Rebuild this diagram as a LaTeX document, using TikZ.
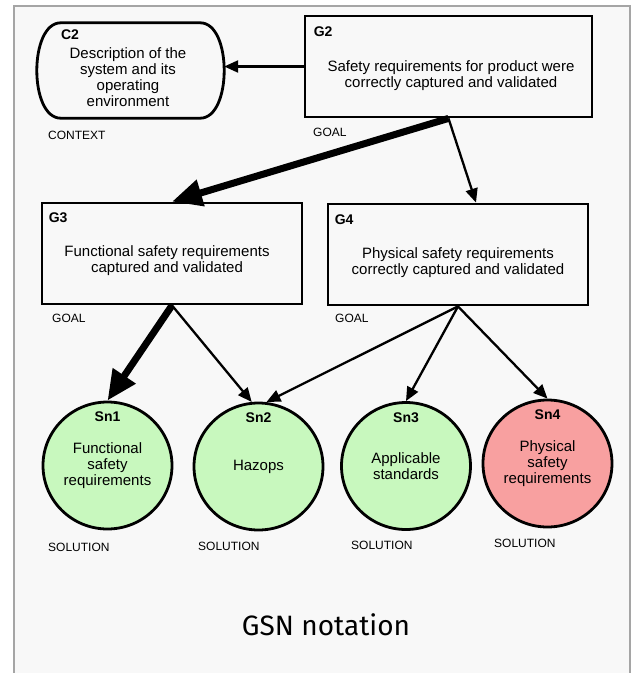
\documentclass[tikz,border=0pt]{standalone}
\usepackage{fontspec}
\setmainfont{Liberation Sans}
\newfontfamily\titlefont{Fira Sans}
\usepackage{tikz}
\usetikzlibrary{arrows.meta,positioning,shapes.geometric}
\definecolor{panel}{RGB}{248,248,248}
\definecolor{framegray}{RGB}{165,165,165}
\definecolor{solgreen}{RGB}{200,248,190}
\definecolor{solred}{RGB}{248,160,160}
\tikzset{
    border/.style={draw=black, line width=2.8pt},
    goalbox/.style={
      rectangle,
      border,
      minimum width=260pt,
      minimum height=101pt},
    ctxbox/.style={
      rectangle,
      minimum width=187pt,
      minimum height=95pt},
    solution/.style={
      ellipse,
      border,
      fill=solgreen,
      minimum width=129pt,
      minimum height=127pt,
      inner sep=0pt,
      align=center,
      font=\fontsize{15}{16}\selectfont},
    bodytext/.style={align=center, inner sep=0pt, font=\fontsize{15}{16}\selectfont},
    idtext/.style={inner sep=0pt, font=\fontsize{14}{16}\selectfont\bfseries},
    kindtext/.style={anchor=west, inner sep=0pt, font=\fontsize{12}{14}\selectfont},
    thinline/.style={draw, line width=2.3pt, -{Triangle[length=14pt,width=12pt]}},
    thickline/.style={draw, line width=7pt, -{Triangle[length=30pt,width=26pt]}},
}
\begin{document}
\begin{tikzpicture}[x=1pt,y=-1pt]
    \useasboundingbox (0,0) rectangle (635,673);
    \draw[fill=panel, draw=framegray, line width=1.6pt] (14,6) rectangle (630,690);

    % context
    \node[ctxbox] (c2) at (130.5,70.5) {};
    \draw[border] ([xshift=24pt]c2.north west) -- ([xshift=-24pt]c2.north east)
        .. controls ([xshift=8pt]c2.north east) and ([xshift=8pt]c2.south east) .. ([xshift=-24pt]c2.south east)
        -- ([xshift=24pt]c2.south west)
        .. controls ([xshift=-8pt]c2.south west) and ([xshift=-8pt]c2.north west) .. cycle;
    \node[idtext, below right=7pt and 24pt of c2.north west] (c2Id) {C2};
    \node[bodytext] (c2Text) at (128,77.5) {Description of the\\system and its\\operating\\environment};
    \node[kindtext] (c2Kind) at (48,135) {CONTEXT};

    % goals
    \node[goalbox, minimum width=287pt] (g2) at (448.5,66.5) {};
    \node[idtext, below right=12pt and 10pt of g2.north west] (g2Id) {G2};
    \node[bodytext] (g2Text) at (451,76) {Safety requirements for product were\\correctly captured and validated};
    \node[kindtext] (g2Kind) at (313,132) {GOAL};

    \node[goalbox] (g3) at (172,253.5) {};
    \node[idtext, below right=11pt and 8pt of g3.north west] (g3Id) {G3};
    \node[bodytext] (g3Text) at (167,261) {Functional safety requirements\\captured and validated};
    \node[kindtext] (g3Kind) at (52,318) {GOAL};

    \node[goalbox] (g4) at (458,254.5) {};
    \node[idtext, below right=12pt and 8pt of g4.north west] (g4Id) {G4};
    \node[bodytext] (g4Text) at (458,263) {Physical safety requirements\\correctly captured and validated};
    \node[kindtext] (g4Kind) at (335,318) {GOAL};

    % solutions
    \node[solution] (sn1) at (107.5,465.5) {Functional\\safety\\requirements};
    \node[solution] (sn2) at (258.5,466.5) {Hazops};
    \node[solution] (sn3) at (406,466) {Applicable\\standards};
    \node[solution, fill=solred] (sn4) at (547.5,463.5) {Physical\\safety\\requirements};
    \foreach \s/\t in {sn1/Sn1,sn2/Sn2,sn3/Sn3,sn4/Sn4}
        \node[idtext, below=11pt of \s.north] (\s Id) {\t};
    \node[kindtext] (sn1Kind) at (48,547) {SOLUTION};
    \node[kindtext] (sn2Kind) at (198,546) {SOLUTION};
    \node[kindtext] (sn3Kind) at (351,545) {SOLUTION};
    \node[kindtext] (sn4Kind) at (494,543) {SOLUTION};

    \node[font=\titlefont\fontsize{28}{32}\selectfont] (caption) at (326,625) {GSN notation};

    \draw[thinline] (g2.west) -- (g2.west -| c2.east);
    \draw[thickline] (g2.south) -- (g3.north);
    \draw[thinline] (g2.south) -- ([xshift=18pt]g4.north);
    \draw[thickline] (g3.south) -- (sn1.north);
    \draw[thinline] (g3.south) -- (sn2.96);
    \draw[thinline] (g4.south) -- (sn2.83);
    \draw[thinline] (g4.south) -- (sn3.north);
    \draw[thinline] (g4.south) -- (sn4.north);
\end{tikzpicture}
\end{document}
